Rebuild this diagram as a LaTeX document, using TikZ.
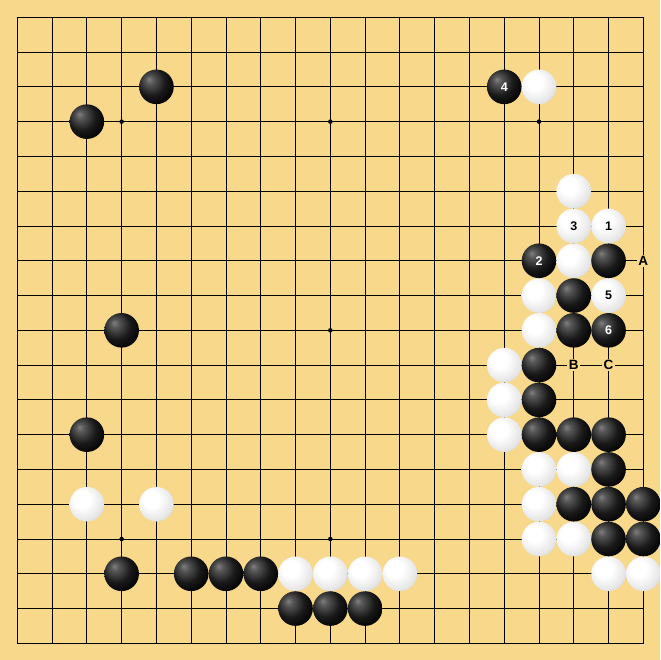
\documentclass[tikz,border=0pt]{standalone}
\usepackage{fontspec}
\setmainfont{Liberation Sans}
\definecolor{board}{RGB}{248,216,138}
\pgfdeclareradialshading{wstone}{\pgfpoint{-9bp}{9bp}}{color(0bp)=(white); color(12bp)=(white); color(28bp)=(black!10); color(44bp)=(black!30); color(62bp)=(black!48)}
\pgfdeclareradialshading{bstone}{\pgfpoint{-11bp}{11bp}}{color(0bp)=(black!50); color(6bp)=(black!66); color(20bp)=(black!90); color(34bp)=(black); color(62bp)=(black)}
\tikzset{
  gl/.style={line width=0.9pt, black},
  bstonestyle/.style={circle, minimum size=34.6pt, inner sep=0pt, shading=bstone, text=white, font=\bfseries\fontsize{12.5}{12.5}\selectfont},
  wstonestyle/.style={circle, minimum size=34.6pt, inner sep=0pt, shading=wstone, text=black, font=\bfseries\fontsize{12.5}{12.5}\selectfont},
  mark label/.style={fill=board, inner sep=1.5pt, font=\bfseries\fontsize{13.5}{13.5}\selectfont},
  starpt/.style={circle, fill=black, minimum size=4.5pt, inner sep=0pt}
}
\begin{document}
\begin{tikzpicture}[x=34.78pt, y=-34.78pt]
\useasboundingbox (-0.4974,-0.4974) rectangle ++(18.9764,18.9764);
\fill[board] (-0.4974,-0.4974) rectangle ++(18.9764,18.9764);
\foreach \i in {0,...,18} {
  \draw[gl] (\i,0) -- (\i,18);
  \draw[gl] (0,\i) -- (18,\i);
}
\draw[line width=1.3pt] (0,0) rectangle (18,18);
\foreach \a/\b in {3/3,9/3,15/3,3/9,9/9,15/9,3/15,9/15,15/15}
  \node[starpt] (s\a-\b) at (\a,\b) {};
% black stones
\foreach \c/\r/\t in {4/2/,2/3/,14/2/4,15/7/2,17/7/,16/8/,3/9/,16/9/,17/9/6,15/10/,15/11/,2/12/,15/12/,16/12/,17/12/,17/13/,16/14/,17/14/,18/14/,17/15/,18/15/,3/16/,5/16/,6/16/,7/16/,8/17/,9/17/,10/17/}
  \node[bstonestyle] (b\c-\r) at (\c,\r) {\t};
% white stones
\foreach \c/\r/\t in {15/2/,16/5/,16/6/3,17/6/1,16/7/,15/8/,17/8/5,15/9/,14/10/,14/11/,14/12/,15/13/,16/13/,2/14/,4/14/,15/14/,15/15/,16/15/,8/16/,9/16/,10/16/,11/16/,17/16/,18/16/}
  \node[wstonestyle] (w\c-\r) at (\c,\r) {\t};
\node[mark label] (mA) at (18,7) {A};
\node[mark label] (mB) at (16,10) {B};
\node[mark label] (mC) at (17,10) {C};
\end{tikzpicture}
\end{document}
